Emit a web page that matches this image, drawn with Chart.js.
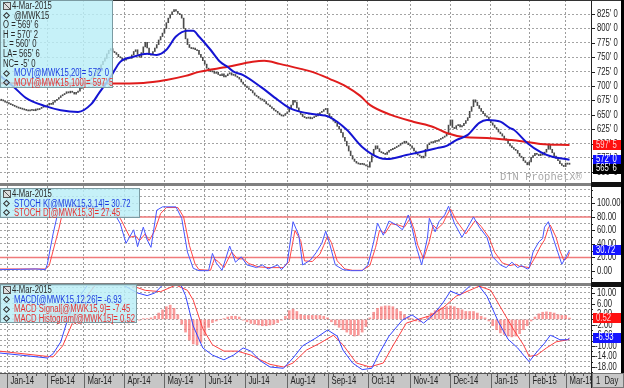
<!DOCTYPE html>
<html>
<head>
<meta charset="utf-8">
<script src="https://cdn.jsdelivr.net/npm/chart.js@4.4.1/dist/chart.umd.min.js"></script>
<style>
  body { margin: 0; background: #fff; }
  #wrap { position: relative; width: 624px; height: 388px; overflow: hidden; background: #fff; font-family: 'Liberation Sans', Arial, sans-serif; }
  canvas { position: absolute; left: 0; }
  .sep { position: absolute; left: 0; width: 591px; height: 3px; background: #808080; z-index: 3; }
  .sepR { position: absolute; left: 591px; width: 33px; height: 5px; background: #111; z-index: 3; }
  .lg { position: absolute; left: 0; background: rgba(186, 238, 247, 0.82); border: 1px solid #7b9ba2; box-sizing: border-box; z-index: 5; }
  .t { position: absolute; white-space: nowrap; font: 10px 'Liberation Sans', Arial, sans-serif; line-height: 10px; transform: scaleX(0.77); transform-origin: 0 50%; color: #2a2a2a; }
  .d { position: absolute; width: 3px; height: 3px; border: 1px solid #333; transform: rotate(45deg); }
  .ic { position: absolute; left: 2px; top: 1px; width: 6px; height: 6px; border: 1px solid #555; background: linear-gradient(45deg, #ddd 42%, #555 45%, #555 55%, #ddd 58%); }
  .blue { color: #1c3ce0; }
  .red { color: #e63232; }
</style>
</head>
<body>
<div id="wrap">
  <canvas id="cPrice" width="624" height="183" style="top:0"></canvas>
  <canvas id="cStoch" width="624" height="97" style="top:186px"></canvas>
  <canvas id="cMacd" width="624" height="102" style="top:286px"></canvas>

  <div style="position:absolute;left:0;top:0;width:624px;height:1px;background:#333;z-index:3"></div>
  <div class="sep" style="top:183px"></div><div class="sepR" style="top:182px"></div>
  <div class="sep" style="top:283px"></div><div class="sepR" style="top:282px"></div>
  <div style="position:absolute;left:621px;top:0;width:3px;height:373px;background:#000;z-index:3"></div>

  <div style="position:absolute;left:500px;top:171px;font:10.5px 'Liberation Mono',monospace;color:#a9a9a9;z-index:2;white-space:nowrap">DTN ProphetX®</div>

  <div class="lg" style="top:0;width:113px;height:88px">
    <div class="ic"></div>
    <div class="t" style="left:11px;top:0">4-Mar-2015</div>
    <div class="d" style="left:3px;top:12px"></div><div class="t" style="left:13px;top:9.6px">@MWK15</div>
    <div class="t" style="left:2px;top:19.2px">O = 569' 6</div>
    <div class="t" style="left:2px;top:28.8px">H = 570' 2</div>
    <div class="t" style="left:2px;top:38.4px">L = 560' 0</div>
    <div class="t" style="left:2px;top:48px">LA= 565' 6</div>
    <div class="t" style="left:2px;top:57.6px">NC= -5' 0</div>
    <div class="d" style="left:3px;top:70px"></div><div class="t blue" style="left:13px;top:67.2px">MOV[@MWK15,20]= 572' 0</div>
    <div class="d" style="left:3px;top:79px"></div><div class="t red" style="left:13px;top:76.8px">MOV[@MWK15,100]= 597' 5</div>
  </div>

  <div class="lg" style="top:188px;width:140px;height:30px">
    <div class="ic"></div>
    <div class="t" style="left:11px;top:0">4-Mar-2015</div>
    <div class="d" style="left:3px;top:12px"></div><div class="t blue" style="left:13px;top:9.5px">STOCH K[@MWK15,3,14]= 30.72</div>
    <div class="d" style="left:3px;top:21px"></div><div class="t red" style="left:13px;top:18.5px">STOCH D[@MWK15,3]= 27.45</div>
  </div>

  <div class="lg" style="top:284px;width:137px;height:39px">
    <div class="ic"></div>
    <div class="t" style="left:11px;top:0">4-Mar-2015</div>
    <div class="d" style="left:3px;top:12px"></div><div class="t blue" style="left:13px;top:9.5px">MACD[@MWK15,12,26]= -6.93</div>
    <div class="d" style="left:3px;top:22px"></div><div class="t red" style="left:13px;top:19px">MACD Signal[@MWK15,9]= -7.45</div>
    <div class="d" style="left:3px;top:31px"></div><div class="t red" style="left:13px;top:28.5px">MACD Histogram[@MWK15]= 0.52</div>
  </div>
</div>

<script>
// trading-day index: 0 = 2-Jan-2014, 293 = 4-Mar-2015
const FIRST_DAY = -3;
const closes = [
  676, 674, 672, 671, 669, 668, 666, 665, 663, 662,
  661, 660, 659, 658, 657, 658, 659, 657, 660, 659,
  661, 663, 665, 664, 667, 670, 668, 672, 675, 677,
  680, 683, 685, 687, 690, 688, 691, 689, 686, 689,
  691, 696, 700, 703, 706, 709, 712, 714, 718, 722,
  726, 731, 737, 743, 748, 756, 762, 765, 760, 758,
  755, 751, 749, 746, 745, 747, 750, 748, 754, 760,
  763, 755, 750, 758, 768, 776, 766, 755, 754, 760,
  766, 772, 780, 786, 792, 800, 810, 818, 824, 829,
  833, 830, 826, 824, 818, 800, 782, 772, 767, 765,
  766, 763, 762, 755, 750, 744, 738, 731, 727, 725,
  726, 722, 724, 720, 718, 721, 716, 718, 721, 723,
  719, 720, 717, 715, 712, 707, 703, 700, 697, 694,
  692, 688, 684, 682, 679, 677, 676, 673, 669, 667,
  664, 661, 658, 656, 653, 650, 648, 649, 652, 655,
  661, 667, 675, 672, 662, 656, 651, 647, 645, 644,
  646, 643, 645, 647, 648, 652, 654, 656, 659, 661,
  652, 647, 643, 639, 636, 630, 625, 619, 611, 604,
  596, 587, 579, 573, 569, 566, 565, 564, 565, 563,
  561, 559, 568, 579, 590, 596, 591, 586, 584, 583,
  581, 585, 588, 590, 591, 593, 595, 597, 600, 601,
  604, 601, 598, 596, 592, 587, 582, 580, 578, 575,
  578, 590, 598, 601, 603, 602, 605, 604, 607, 609,
  611, 613, 616, 632, 641, 628, 626, 631, 633, 629,
  631, 635, 640, 645, 656, 664, 676, 672, 666, 661,
  656, 652, 648, 646, 640, 636, 632, 628, 625, 620,
  617, 613, 608, 606, 600, 596, 593, 590, 588, 583,
  578, 576, 570, 567, 563, 568, 576, 579, 583, 581,
  579, 582, 580, 585, 590, 598, 590, 584, 578, 574,
  570, 565, 562, 560, 566, 564, 565.75
];

const ma20Days = [-4, 3, 10, 20, 28, 37, 44, 48, 54, 59, 66, 73, 78, 83, 88, 94, 97, 100, 106, 111, 115, 118, 123, 132, 141, 147, 153, 160, 168, 177, 185, 194, 198, 208, 215, 224, 229, 234, 240, 246, 250, 257, 262, 264, 271, 278, 284, 293];
const ma20Vals = [719, 700, 679, 665, 658, 655, 669, 688, 716, 742, 751, 756, 754, 763, 786, 796, 796, 786, 763, 742, 733, 725, 719, 699, 676, 662, 655, 651, 646, 624, 594, 575, 573, 580, 585, 592, 596, 606, 615, 636, 641, 638, 627, 624, 601, 585, 577, 572];

const ma100Days = [-4, 17, 38, 54, 71, 83, 93, 100, 115, 128, 134, 142, 153, 159, 168, 177, 184, 189, 200, 212, 222, 229, 238, 250, 262, 267, 278, 293];
const ma100Vals = [705, 705, 704.5, 704.5, 705.4, 710.6, 717.6, 724.6, 733.3, 742, 743.7, 738.5, 729.8, 724.6, 712.4, 698.5, 682.8, 667.1, 649.7, 637.5, 628.8, 618.4, 611.4, 609.7, 606.2, 604.5, 599.3, 597.6];

const stochKDays = [-4, 7, 15, 20, 21, 22, 24, 26, 29, 33, 38, 43, 48, 54, 56, 59, 62, 66, 68, 71, 73, 75, 78, 81, 88, 91, 94, 97, 100, 105, 107, 109, 112, 116, 119, 122, 125, 130, 133, 136, 141, 143, 146, 149, 152, 154, 158, 161, 164, 166, 168, 171, 175, 179, 185, 188, 191, 193, 196, 199, 203, 206, 209, 211, 213, 216, 219, 220, 223, 225, 228, 230, 233, 237, 243, 246, 250, 253, 257, 260, 263, 266, 268, 271, 272, 274, 277, 279, 280, 282, 284, 287, 289, 291, 293];
const stochKVals = [2, 2.5, 3, 2, 10, 25, 55, 80, 97, 98, 96, 97, 92, 88, 85, 70, 41, 61, 36, 65, 46, 35, 90, 95, 95, 78, 28, 4, 0.5, 0.5, 26, 12, 1, 37, 13, 21, 9, 5, 9, 3, 9, 2, 12, 73, 53, 9, 16, 27, 41, 59, 41, 9, 2, 0.5, 0.5, 9, 43, 71, 53, 74, 68, 61, 83, 64, 38, 9, 49, 78, 58, 73, 83, 96, 71, 50, 80, 65, 50, 21, 9, 5, 13, 5, 8, 3, 4, 28, 43, 48, 65, 73, 53, 27, 10, 20, 30.72];

const stochDDays = [-4, 20, 22, 24, 27, 29, 33, 54, 59, 64, 67, 69, 72, 74, 77, 80, 83, 89, 92, 95, 98, 100, 106, 108, 110, 113, 117, 120, 123, 126, 131, 137, 144, 147, 150, 153, 155, 159, 163, 165, 167, 169, 172, 176, 180, 185, 189, 192, 194, 197, 200, 204, 207, 210, 212, 214, 217, 220, 222, 224, 227, 229, 231, 234, 239, 244, 247, 251, 254, 258, 262, 265, 267, 270, 272, 275, 278, 280, 282, 283, 286, 288, 290, 292, 293];
const stochDVals = [3, 3, 8, 30, 62, 88, 96, 90, 78, 50, 52, 45, 55, 45, 60, 85, 94, 94, 80, 38, 10, 2, 1, 18, 14, 5, 28, 18, 18, 11, 6, 5, 5, 14, 60, 45, 15, 14, 25, 38, 52, 42, 15, 3, 1, 1, 8, 35, 60, 56, 70, 68, 65, 78, 62, 38, 18, 44, 68, 62, 70, 82, 92, 75, 55, 75, 66, 50, 28, 12, 8, 10, 7, 6, 5, 20, 37, 46, 64, 68, 50, 30, 16, 20, 27.45];
const stochLevels = [80, 20];

const macdDays = [-4, 7, 21, 24, 28, 31, 34, 40, 43, 48, 56, 63, 68, 73, 77, 81, 88, 90, 93, 97, 102, 107, 113, 118, 123, 127, 132, 137, 144, 149, 154, 161, 167, 172, 175, 180, 185, 190, 194, 199, 206, 211, 217, 222, 227, 231, 236, 241, 245, 250, 256, 261, 266, 269, 272, 276, 280, 283, 285, 288, 292, 293];
const macdVals = [-12.7, -13.5, -14.6, -13, -8.5, -1.4, 4.7, 11, 14, 16, 15, 12, 10, 9, 10, 13, 15, 14, 9, -2.5, -10.8, -13.5, -15.3, -13.5, -10.8, -12, -15.7, -18, -18.5, -14.6, -10, -7, -4, -6.3, -11.6, -16.5, -19, -18.5, -12.7, -6.3, -0.2, 1.7, -1.4, 1.7, 6.2, 10.7, 9.2, 12.6, 13.5, 8.8, -1, -7.5, -10.8, -13.5, -16, -12.3, -9, -6, -6.6, -7.7, -7.7, -6.93];

const signalDays = [-4, 21, 24, 29, 34, 40, 46, 54, 64, 72, 80, 88, 94, 97, 102, 107, 113, 120, 127, 132, 137, 144, 149, 156, 163, 170, 175, 182, 189, 196, 201, 208, 214, 220, 227, 234, 241, 246, 252, 257, 264, 269, 272, 276, 281, 286, 292, 293];
const signalVals = [-12, -14, -14.2, -10, -1.5, 7.3, 13, 15, 13, 11, 10.5, 13, 11, 7.3, -3.5, -9.6, -12, -12, -13.5, -15.3, -17, -18, -16.5, -11.6, -9, -6, -9.6, -16.5, -18, -16.5, -10, -1.4, 0, 1.3, 4.3, 8.8, 11, 12.6, 11, 4.7, -4, -9.6, -14, -13.5, -10.8, -8.5, -7.7, -7.45];

// histogram, one value every second trading day from day -3
const HIST_FIRST = -3, HIST_STEP = 2;
const histVals = [
  0.3, 0.3, 0.3, 0.3, 0.3, 0.45, 0.45, 0.6, 0.6, 0.6,
  0.9, 1.2, 1.8, 2.4, 3, 3.3, 3.3, 3, 2.7, 2.4,
  2.1, 2.1, 1.8, 1.8, 1.5, 1.2, 0.9, 0.6, 0.3, 0.15,
  -0.3, -0.6, -0.9, -1.35, -1.2, -0.6, -0.3, 0.3, 0.3, 0.6,
  1.2, 2.4, 3.6, 4.8, 5.4, 4.2, 1.8, -1.8, -4.8, -7.8,
  -9.3, -9.6, -8.7, -6, -3, -1.2, -0.6, 0, 0.3, 0.9,
  1.2, 1.2, 0.9, -0.3, -0.9, -1.5, -1.8, -2.1, -2.4, -2.4,
  -2.1, -1.8, -1.2, -0.3, 1.2, 3.3, 3.9, 3, 1.8, 1.5,
  1.5, 1.5, 1.5, 1.5, 1.2, 0.6, -0.9, -2.1, -3, -3.9,
  -4.8, -5.7, -6.3, -6, -4.8, -2.7, 0.6, 2.7, 4.2, 4.8,
  5.1, 5.1, 4.8, 3.9, 3, 1.8, 0.9, 0.3, -0.6, -0.9,
  0, 1.2, 2.4, 3.3, 3.9, 4.5, 4.8, 5.1, 4.8, 4.2,
  3.6, 3, 3, 3, 2.4, 1.2, 0.6, -0.6, -2.4, -3.9,
  -5.1, -5.7, -6.3, -6.6, -6.3, -5.4, -3.9, -2.4, -0.6, 0.9,
  2.1, 2.7, 2.85, 2.7, 2.4, 1.8, 1.5, 1.5, 0.52
];

const monthStarts = [0, 21, 40, 61, 82, 103, 124, 146, 167, 188, 210, 231, 252, 272, 291];
const monthLabels = ['Jan-14', 'Feb-14', 'Mar-14', 'Apr-14', 'May-14', 'Jun-14', 'Jul-14', 'Aug-14', 'Sep-14', 'Oct-14', 'Nov-14', 'Dec-14', 'Jan-15', 'Feb-15', 'Mar-15'];

const priceTicks = [550, 575, 600, 625, 650, 675, 700, 725, 750, 775, 800, 825];
const stochTicks = [0, 20, 40, 60, 80, 100];
const stochGrid = [-10, 0, 10, 20, 30, 40, 50, 60, 70, 80, 90, 100, 110, 120];
const macdTicks = [10, 6, 2, -2, -6, -10, -14, -18];
const macdGrid = [-20, -18, -16, -14, -12, -10, -8, -6, -4, -2, 0, 2, 4, 6, 8, 10, 12];

const X_MIN = -3.65, X_MAX = 304.2;
const SQ = 0.77;
const FONT = "10px 'Liberation Sans', Arial, sans-serif";

function sqText(ctx, s, x, y, color, align) {
  ctx.save();
  ctx.font = FONT;
  ctx.fillStyle = color;
  ctx.textBaseline = 'middle';
  ctx.textAlign = align || 'left';
  ctx.translate(x, y);
  ctx.scale(SQ, 1);
  ctx.fillText(s, 0, 0);
  ctx.restore();
}

const pts = (days, vals) => days.map((x, i) => ({ x, y: vals[i] }));

// right hand value axis: labels, ticks and last-value boxes
function rightAxis(labels, fmt, boxes) {
  return {
    id: 'rightAxis',
    afterDraw(chart) {
      const ctx = chart.ctx, ys = chart.scales.y, a = chart.chartArea;
      ctx.save();
      ctx.strokeStyle = '#222';
      ctx.lineWidth = 1;
      ctx.beginPath(); ctx.moveTo(a.right + 0.5, 0); ctx.lineTo(a.right + 0.5, chart.height); ctx.stroke();
      ys.ticks.forEach(t => {
        const py = Math.round(ys.getPixelForValue(t.value)) + 0.5;
        const major = labels.includes(t.value);
        ctx.beginPath(); ctx.moveTo(a.right, py); ctx.lineTo(a.right + (major ? 4 : 2), py); ctx.stroke();
        if (major) {
          const s = fmt(t.value);
          sqText(ctx, s, a.right + (s[0] === '-' ? 4 : 6), py, '#222');
        }
      });
      let prev = -100;
      boxes.forEach(b => {
        let py = ys.getPixelForValue(b.value);
        if (b.stack && py < prev + 9) py = prev + 9;
        prev = py;
        ctx.fillStyle = b.bg;
        ctx.fillRect(a.right + 2, Math.round(py - 5), 28, 10);
        sqText(ctx, b.text, a.right + 5, py, b.fg);
      });
      ctx.restore();
    }
  };
}

// date band under the lowest panel
const dateBand = {
  id: 'dateBand',
  afterDraw(chart) {
    const ctx = chart.ctx, xs = chart.scales.x, a = chart.chartArea;
    const top = a.bottom, h = chart.height - a.bottom;
    ctx.save();
    ctx.fillStyle = '#c6c6c6';
    ctx.fillRect(0, top, a.right, h);
    ctx.strokeStyle = '#555';
    ctx.lineWidth = 1;
    ctx.beginPath(); ctx.moveTo(0, top + 0.5); ctx.lineTo(a.right, top + 0.5); ctx.stroke();
    ctx.beginPath(); ctx.rect(0, top, a.right, h); ctx.clip();
    for (let d = 0; d < X_MAX; d += 5) {
      const px = Math.round(xs.getPixelForValue(d)) + 0.5;
      ctx.beginPath(); ctx.moveTo(px, top); ctx.lineTo(px, top + 3); ctx.stroke();
    }
    monthStarts.forEach((m, i) => {
      const px = Math.round(xs.getPixelForValue(m)) + 0.5;
      ctx.strokeStyle = '#666';
      ctx.beginPath(); ctx.moveTo(px, top); ctx.lineTo(px, chart.height); ctx.stroke();
      sqText(ctx, monthLabels[i], px + 3, top + 8.5, '#222');
    });
    ctx.restore();
    ctx.save();
    ctx.fillStyle = '#c8c8c8';
    ctx.fillRect(a.right + 1, top, chart.width - a.right - 1, h);
    ctx.strokeStyle = '#777';
    ctx.strokeRect(a.right + 1.5, top + 0.5, chart.width - a.right - 2, h - 1);
    sqText(ctx, '1  Day', a.right + 5, top + 8.5, '#222');
    ctx.restore();
  }
};

function options(yMin, yMax, grid, xAxisH) {
  return {
    responsive: false,
    animation: false,
    events: [],
    layout: { padding: 0 },
    plugins: { legend: { display: false }, tooltip: { enabled: false } },
    scales: {
      x: {
        type: 'linear', min: X_MIN, max: X_MAX, offset: false,
        afterBuildTicks: s => { s.ticks = monthStarts.map(v => ({ value: v })); },
        afterFit: s => { s.height = xAxisH; s.paddingLeft = 0; s.paddingRight = 0; },
        ticks: { display: false },
        grid: { color: '#9c9c9c', lineWidth: 1, drawTicks: false, offset: false },
        border: { display: false, dash: [2, 2] }
      },
      y: {
        position: 'right', min: yMin, max: yMax,
        afterBuildTicks: s => { s.ticks = grid.map(v => ({ value: v })); },
        afterFit: s => { s.width = 33; s.paddingTop = 0; s.paddingBottom = 0; },
        ticks: { display: false },
        grid: { color: '#a4a4a4', lineWidth: 1, drawTicks: false },
        border: { display: false, dash: [2, 2] }
      }
    }
  };
}

const priceBars = closes.map((c, i) => {
  const prev = i ? closes[i - 1] : c;
  let lo = Math.min(prev, c), hi = Math.max(prev, c);
  if (hi - lo < 2) { const m = (hi + lo) / 2; lo = m - 1; hi = m + 1; }
  return { x: FIRST_DAY + i, y: [lo, hi] };
});

const eighths = v => Math.floor(v) + "' " + Math.round((v - Math.floor(v)) * 8);

new Chart(document.getElementById('cPrice'), {
  type: 'bar',
  data: {
    datasets: [
      { type: 'line', data: pts(ma20Days, ma20Vals), borderColor: '#1414d2', borderWidth: 2, pointRadius: 0, cubicInterpolationMode: 'monotone', order: 1 },
      { type: 'line', data: pts(ma100Days, ma100Vals), borderColor: '#e01c1c', borderWidth: 2, pointRadius: 0, cubicInterpolationMode: 'monotone', order: 2 },
      { data: priceBars, backgroundColor: '#4a4a4a', barThickness: 1, grouped: false, order: 3 }
    ]
  },
  options: options(531.4, 849.5, priceTicks, 0),
  plugins: [rightAxis(priceTicks, v => v + "' 0", [
    { value: 597.625, bg: '#ff1010', fg: '#ffd0d0', text: eighths(597.625) },
    { value: 572, bg: '#1010ff', fg: '#ffffff', text: eighths(572), stack: true },
    { value: 565.75, bg: '#000000', fg: '#ffffff', text: eighths(565.75), stack: true }
  ])]
});

const flat = v => [{ x: X_MIN, y: v }, { x: X_MAX, y: v }];

new Chart(document.getElementById('cStoch'), {
  type: 'line',
  data: {
    datasets: [
      ...stochLevels.map(v => ({ data: flat(v), borderColor: '#f07a7a', borderWidth: 1.5, pointRadius: 0, order: 3 })),
      { data: pts(stochDDays, stochDVals), borderColor: '#ff4848', borderWidth: 1, pointRadius: 0, order: 2 },
      { data: pts(stochKDays, stochKVals), borderColor: '#4656ff', borderWidth: 1, pointRadius: 0, order: 1 }
    ]
  },
  options: options(-17.8, 125.9, stochGrid, 0),
  plugins: [rightAxis(stochTicks, v => v.toFixed(2), [
    { value: 30.72, bg: '#1414ff', fg: '#ffffff', text: '30.72' }
  ])]
});

new Chart(document.getElementById('cMacd'), {
  type: 'bar',
  data: {
    datasets: [
      { type: 'line', data: pts(macdDays, macdVals), borderColor: '#3444ff', borderWidth: 1, pointRadius: 0, order: 1 },
      { type: 'line', data: pts(signalDays, signalVals), borderColor: '#ff4040', borderWidth: 1, pointRadius: 0, order: 2 },
      { data: histVals.map((v, i) => ({ x: HIST_FIRST + i * HIST_STEP, y: v })), backgroundColor: 'rgba(248, 110, 110, 0.7)', barThickness: 2, grouped: false, order: 3 }
    ]
  },
  options: options(-20.28, 12.64, macdGrid, 15),
  plugins: [rightAxis(macdTicks, v => v.toFixed(2), [
    { value: 0.52, bg: '#ff1010', fg: '#ffd0d0', text: '0.52' },
    { value: -6.93, bg: '#1414ff', fg: '#ffffff', text: '-6.93' }
  ]), dateBand]
});
</script>
</body>
</html>
